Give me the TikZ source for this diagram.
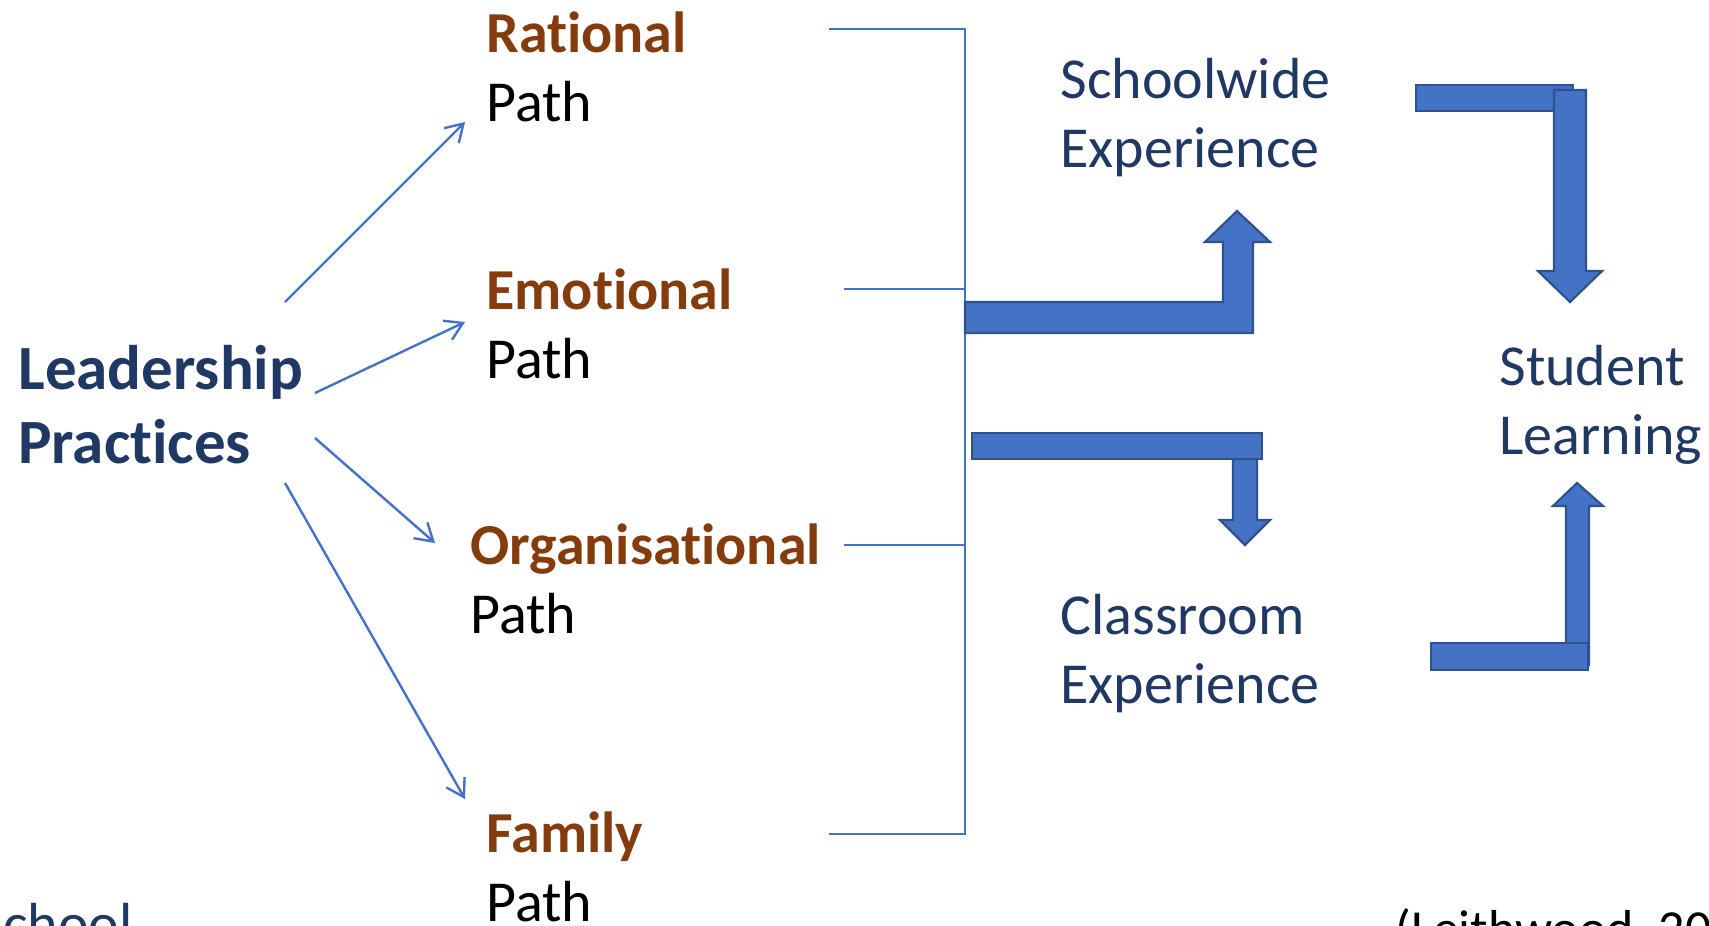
\documentclass[tikz,border=0pt]{standalone}
\usepackage{fontspec}
\setmainfont{Carlito}[Ligatures={NoCommon}]
\usetikzlibrary{arrows.meta}
\definecolor{accent}{HTML}{4472C4}
\definecolor{accentdark}{HTML}{2F528F}
\definecolor{navy}{HTML}{203864}
\definecolor{rust}{HTML}{843C0C}
\begin{document}
\begin{tikzpicture}[x=0.5pt,y=-0.5pt,
  % multi-line labels are placed by the baseline of their last line
  txt/.style={anchor=base west, inner sep=0pt, align=left,
    font=\fontsize{29}{34.5}\selectfont},
  pathlabel/.style={txt, text=black},
  outcome/.style={txt, text=navy},
  link/.style={draw=accent, line width=1.2pt,
    -{Straight Barb[length=8.5pt,width=10.5pt]}},
  bracket/.style={draw=accent, line width=0.75pt},
  block/.style={fill=accent, draw=accentdark, line width=1.1pt, line join=miter},
]
\useasboundingbox (0,0) rectangle (1709,926);
\clip (0,0) rectangle (1709,926);

% source
\node[txt, text=navy, font=\fontsize{31.5}{37}\selectfont\bfseries] (lp) at (18,463)
  {Leadership\\Practices};

% the four paths
\node[pathlabel] (rat) at (486,121) {{\color{rust}\bfseries Rational}\\Path};
\node[pathlabel] (emo) at (486,378) {{\color{rust}\bfseries Emotional}\\Path};
\node[pathlabel] (org) at (470,633) {{\color{rust}\bfseries Organisational}\\Path};
\node[pathlabel] (fam) at (486,921) {{\color{rust}\bfseries Family}\\Path};

% outcomes
\node[outcome] (sw) at (1060,167) {Schoolwide\\Experience};
\node[outcome] (cr) at (1060,703) {Classroom\\Experience};
\node[outcome] (sl) at (1499,454) {Student\\Learning};

% footer fragments
\node[txt, text=navy] (sch) at (-24,943) {School};
\node[txt, text=black, font=\fontsize{26}{31}\selectfont] (cite) at (1395,946) {(Leithwood, 2012)};

% arrows from the leadership practices to each path
\coordinate (s1) at (285,302); \coordinate (e1) at (465,122);
\coordinate (s2) at (315,393); \coordinate (e2) at (465,322);
\coordinate (s3) at (315,438); \coordinate (e3) at (435,543);
\coordinate (s4) at (285,483); \coordinate (e4) at (465,799);
\draw[link] (s1) -- (e1);
\draw[link] (s2) -- (e2);
\draw[link] (s3) -- (e3);
\draw[link] (s4) -- (e4);

% bracket gathering the paths
\coordinate (bt) at (829,29);  \coordinate (bb) at (829,834);
\coordinate (be) at (844,289); \coordinate (bo) at (844,545);
\draw[bracket] (bt) -- (965,29) -- (965,834) -- (bb);
\draw[bracket] (be) -- (965,289);
\draw[bracket] (bo) -- (965,545);

% bent arrow up to the schoolwide experience
\draw[block] (965,302) -- (1223,302) -- (1223,242) -- (1205,242) -- (1237,211)
  -- (1270,242) -- (1253,242) -- (1253,333) -- (965,333) -- cycle;

% bent arrow down to the classroom experience
\draw[block] (1233,459) -- (1233,520) -- (1220,520) -- (1245,545) -- (1270,520)
  -- (1257,520) -- (1257,459) -- cycle;
\draw[block] (972,433) rectangle (1262,459);

% schoolwide experience to student learning
\draw[block] (1416,85) rectangle (1573,111);
\draw[block] (1554,90) -- (1586,90) -- (1586,271) -- (1602,271) -- (1570,302)
  -- (1538,271) -- (1554,271) -- cycle;

% classroom experience to student learning
\draw[block] (1566,665) -- (1566,506) -- (1553,506) -- (1577,483) -- (1603,506)
  -- (1589,506) -- (1589,665) -- cycle;
\draw[block] (1431,643) rectangle (1588,670);
\end{tikzpicture}
\end{document}
